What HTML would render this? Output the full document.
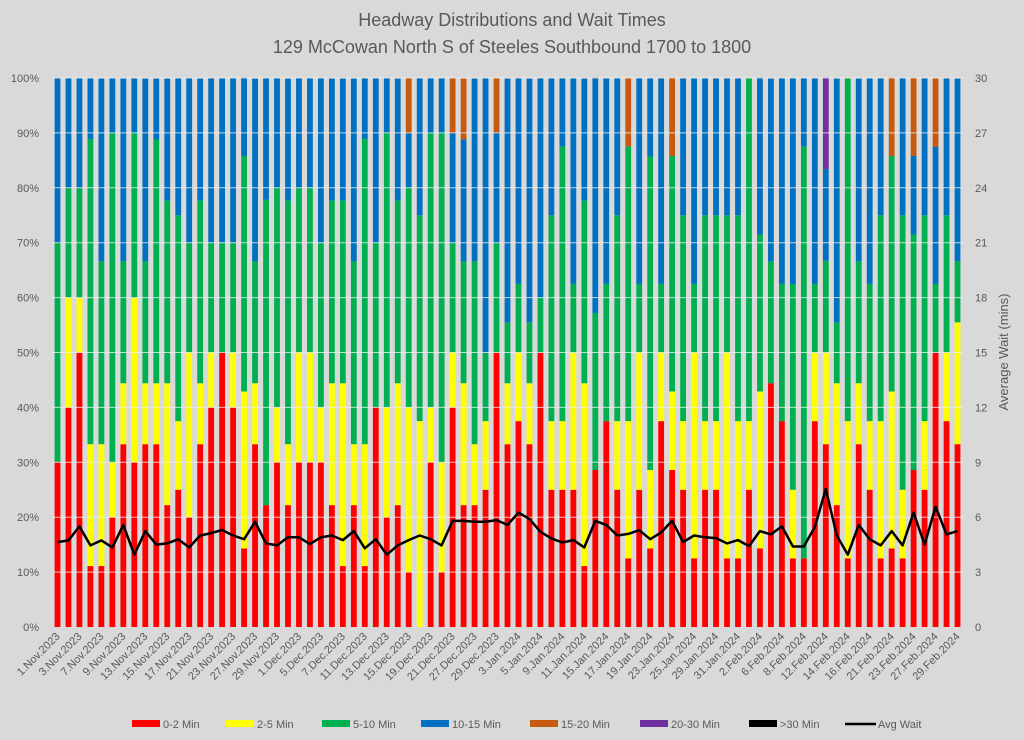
<!DOCTYPE html>
<html><head><meta charset="utf-8"><style>
html,body{margin:0;padding:0;background:#d9d9d9;}
svg{display:block;font-family:"Liberation Sans",sans-serif;}
</style></head><body>
<svg id="chart" width="1024" height="740" viewBox="0 0 1024 740" xmlns="http://www.w3.org/2000/svg">
<rect width="1024" height="740" fill="#d9d9d9"/>
<text x="512" y="26" text-anchor="middle" font-size="18" fill="#595959">Headway Distributions and Wait Times</text>
<text x="512" y="53" text-anchor="middle" font-size="18" fill="#595959">129 McCowan North  S of Steeles Southbound 1700 to 1800</text>
<text transform="translate(1008,352) rotate(-90)" text-anchor="middle" font-size="13" fill="#595959">Average Wait (mins)</text>
<g id="bars"></g><g id="grid"></g><g id="line"></g><g id="axes"></g><g id="legend"></g>
</svg>
<script>
const categories=["1.Nov.2023","2.Nov.2023","3.Nov.2023","6.Nov.2023","7.Nov.2023","8.Nov.2023","9.Nov.2023","10.Nov.2023","13.Nov.2023","14.Nov.2023","15.Nov.2023","16.Nov.2023","17.Nov.2023","20.Nov.2023","21.Nov.2023","22.Nov.2023","23.Nov.2023","24.Nov.2023","27.Nov.2023","28.Nov.2023","29.Nov.2023","30.Nov.2023",
"1.Dec.2023","4.Dec.2023","5.Dec.2023","6.Dec.2023","7.Dec.2023","8.Dec.2023","11.Dec.2023","12.Dec.2023","13.Dec.2023","14.Dec.2023","15.Dec.2023","18.Dec.2023","19.Dec.2023","20.Dec.2023","21.Dec.2023","22.Dec.2023","27.Dec.2023","28.Dec.2023","29.Dec.2023",
"2.Jan.2024","3.Jan.2024","4.Jan.2024","5.Jan.2024","8.Jan.2024","9.Jan.2024","10.Jan.2024","11.Jan.2024","12.Jan.2024","15.Jan.2024","16.Jan.2024","17.Jan.2024","18.Jan.2024","19.Jan.2024","22.Jan.2024","23.Jan.2024","24.Jan.2024","25.Jan.2024","26.Jan.2024","29.Jan.2024","30.Jan.2024","31.Jan.2024",
"1.Feb.2024","2.Feb.2024","5.Feb.2024","6.Feb.2024","7.Feb.2024","8.Feb.2024","9.Feb.2024","12.Feb.2024","13.Feb.2024","14.Feb.2024","15.Feb.2024","16.Feb.2024","20.Feb.2024","21.Feb.2024","22.Feb.2024","23.Feb.2024","26.Feb.2024","27.Feb.2024","28.Feb.2024","29.Feb.2024"];
const red=[30,40,50,11.1,11.1,20,33.3,30,33.3,33.3,22.2,25,20,33.3,40,50,40,14.3,33.3,22.2,30,22.2,30,30,30,22.2,11.1,22.2,11.1,40,20,22.2,10,0,30,10,40,22.2,22.2,25,50,33.3,37.5,33.3,50,25,25,25,11.1,28.6,37.5,25,12.5,25,14.3,37.5,28.6,25,12.5,25,25,12.5,12.5,25,14.3,44.4,37.5,12.5,12.5,37.5,33.3,22.2,12.5,33.3,25,12.5,14.3,12.5,28.6,25,50,37.5,33.3];
const yellow=[0,20,10,22.2,22.2,10,11.1,30,11.1,11.1,22.2,12.5,30,11.1,10,0,10,28.6,11.1,0,10,11.1,20,20,10,22.2,33.3,11.1,22.2,0,20,22.2,30,37.5,10,20,10,22.2,11.1,12.5,0,11.1,12.5,11.1,0,12.5,12.5,25,33.3,0,0,12.5,25,25,14.3,12.5,14.3,12.5,37.5,12.5,12.5,37.5,25,12.5,28.6,0,0,12.5,0,12.5,16.7,22.2,25,11.1,12.5,25,28.6,12.5,0,12.5,0,12.5,22.2];
const green=[40,20,20,55.6,33.3,60,22.2,30,22.2,44.4,33.3,37.5,20,33.3,20,20,20,42.9,22.2,55.6,40,44.4,30,30,30,33.3,33.3,33.3,55.6,30,50,33.3,40,37.5,50,60,20,22.2,33.3,12.5,20,11.1,12.5,11.1,10,37.5,50,12.5,33.3,28.6,25,37.5,50,12.5,57.1,12.5,42.9,37.5,12.5,37.5,37.5,25,37.5,62.5,28.6,22.2,25,37.5,75,12.5,16.7,11.1,62.5,22.2,25,37.5,42.9,50,42.9,37.5,12.5,25,11.1];
const blue=[30,20,20,11.1,33.3,10,33.3,10,33.3,11.1,22.2,25,30,22.2,30,30,30,14.3,33.3,22.2,20,22.2,20,20,30,22.2,22.2,33.3,11.1,30,10,22.2,10,25,10,10,20,22.2,33.3,50,20,44.4,37.5,44.4,40,25,12.5,37.5,22.2,42.9,37.5,25,0,37.5,14.3,37.5,0,25,37.5,25,25,25,25,0,28.6,33.3,37.5,37.5,12.5,37.5,16.7,44.4,0,33.3,37.5,25,0,25,14.3,25,25,25,33.3];
const orange=[0,0,0,0,0,0,0,0,0,0,0,0,0,0,0,0,0,0,0,0,0,0,0,0,0,0,0,0,0,0,0,0,10,0,0,0,10,11.1,0,0,10,0,0,0,0,0,0,0,0,0,0,0,12.5,0,0,0,14.3,0,0,0,0,0,0,0,0,0,0,0,0,0,0,0,0,0,0,0,14.3,0,14.3,0,12.5,0,0];
const purple=[0,0,0,0,0,0,0,0,0,0,0,0,0,0,0,0,0,0,0,0,0,0,0,0,0,0,0,0,0,0,0,0,0,0,0,0,0,0,0,0,0,0,0,0,0,0,0,0,0,0,0,0,0,0,0,0,0,0,0,0,0,0,0,0,0,0,0,0,0,0,16.7,0,0,0,0,0,0,0,0,0,0,0,0];
const avgWait=[4.64,4.73,5.5,4.46,4.73,4.35,5.58,3.95,5.24,4.5,4.57,4.8,4.35,5.0,5.13,5.3,5.0,4.8,5.75,4.57,4.46,4.9,4.9,4.53,4.9,5.0,4.75,5.24,4.3,4.8,3.95,4.46,4.75,5.0,4.8,4.46,5.8,5.8,5.75,5.75,5.84,5.58,6.25,5.9,5.2,4.84,4.62,4.75,4.35,5.8,5.58,5.0,5.09,5.29,4.8,5.17,5.8,4.64,5.0,4.9,4.86,4.57,4.75,4.42,5.24,5.06,5.5,4.4,4.4,5.46,7.54,5.0,3.95,5.58,4.8,4.46,5.24,4.46,6.25,4.5,6.58,5.06,5.24];
const pctTicks=[0,10,20,30,40,50,60,70,80,90,100];
const waitTicks=[0,3,6,9,12,15,18,21,24,27,30];
const seriesNames=["0-2 Min","2-5 Min","5-10 Min","10-15 Min","15-20 Min","20-30 Min",">30 Min"];
const seriesColors=["#ff0000","#ffff00","#00b050","#0070c0","#c55a11","#7030a0","#000000"];

const NS="http://www.w3.org/2000/svg";
const L=52,R=963,T=78,B=627;
const n=categories.length;
const step=(R-L)/n;
const x=i=>L+step*(i+0.5);
const y=p=>B-(B-T)*p/100;
const y2=v=>B-(B-T)*v/30;
function mk(tag,attrs,parent){const e=document.createElementNS(NS,tag);for(const k in attrs)e.setAttribute(k,attrs[k]);parent.appendChild(e);return e;}
const grid=document.getElementById('grid'),axes=document.getElementById('axes'),bars=document.getElementById('bars');
pctTicks.forEach(t=>{
  if(t>0){
    const g=mk('line',{x1:L,x2:R,y1:y(t),y2:y(t),stroke:'#eeeeee','stroke-width':1,'stroke-opacity':0.8},grid);
    
    
  }
  const tx=mk('text',{x:39,y:y(t)+4,'text-anchor':'end','font-size':11,fill:'#595959'},axes);
  tx.textContent=t+'%';
  
  
});
waitTicks.forEach(t=>{
  const tx=mk('text',{x:975,y:y2(t)+4,'text-anchor':'start','font-size':11,fill:'#595959'},axes);
  tx.textContent=t;
  
  
});
const series=[red,yellow,green,blue,orange,purple];
const bw=5.8;
for(let i=0;i<n;i++){
  let cum=0;
  series.forEach((s,k)=>{
    const v=s[i];
    if(v>0){
      const r=mk('rect',{x:x(i)-bw/2,y:y(cum+v),width:bw,height:y(cum)-y(cum+v),fill:seriesColors[k]},bars);
      
      
    }
    cum+=v;
  });
  if(i%2===0){
    const tx=mk('text',{x:0,y:0,'text-anchor':'end','font-size':11,fill:'#595959',transform:`translate(${x(i)+3},${B+10}) rotate(-45)`},axes);
    tx.textContent=categories[i];
    
    
  }
}
const pts=avgWait.map((v,i)=>x(i).toFixed(1)+','+y2(v).toFixed(1)).join(' ');
const pl=mk('polyline',{points:pts,fill:'none',stroke:'#000','stroke-width':2.5,'stroke-linejoin':'round'},document.getElementById('line'));


const lg=document.getElementById('legend');
const lx=[132,226,322,421,530,640,749];
seriesNames.forEach((nm,k)=>{
  const r=mk('rect',{x:lx[k],y:720,width:28,height:7,fill:seriesColors[k]},lg);
  
  
  const t=mk('text',{x:lx[k]+31,y:728,'font-size':11,fill:'#595959'},lg);
  t.textContent=nm;
  
  
});
const ll=mk('line',{x1:845,x2:876,y1:724,y2:724,stroke:'#000','stroke-width':2.5},lg);


const lt=mk('text',{x:878,y:728,'font-size':11,fill:'#595959'},lg);
lt.textContent='Avg Wait';


</script>
</body></html>
